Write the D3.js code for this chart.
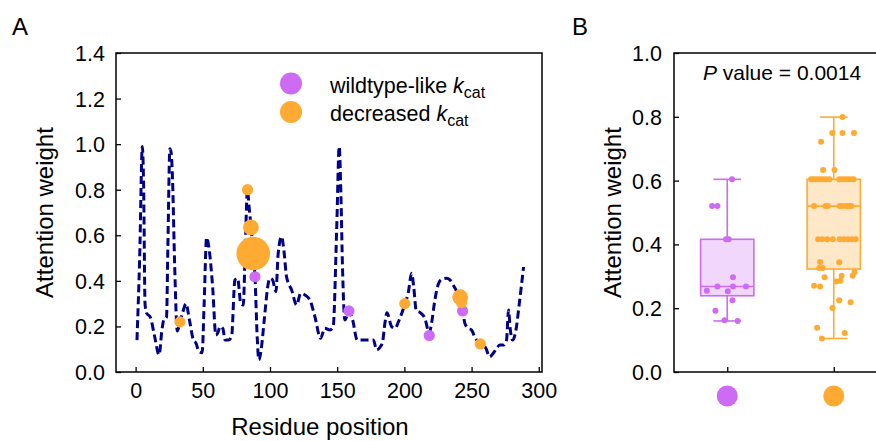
<!DOCTYPE html>
<html>
<head>
<meta charset="utf-8">
<script src="https://cdn.jsdelivr.net/npm/d3@7"></script>
<style>
  body { margin: 0; background: #fff; }
  svg { display: block; }
  text { font-family: "Liberation Sans", Arial, Helvetica, sans-serif; fill: #000; }
</style>
</head>
<body>
<svg id="chart" width="876" height="441"></svg>
<script>
// ---- Panel A: per-residue attention profile ----
const residues = [1, 3, 5, 6, 7, 8, 11, 14, 17.5, 19.5, 21, 23, 24, 25.5, 26.5, 27.5, 29, 31, 33, 35, 37.5, 40, 43, 45, 47, 49.5,
  51, 52.8, 54.8, 57.3, 59.7, 61, 63, 65, 66.5, 69, 71.4, 73.9, 75.9, 78.3, 80.1, 81.5, 83.2, 84.5, 86, 87.5, 88.8, 90.5, 91.7,
  93.7, 95.7, 98.7, 99.8, 101.9, 104.4, 106.1, 108.6, 110.3, 112.3, 116.1, 119.8, 122.8, 126, 129.7, 133.4, 137.6, 140.8, 144.6,
  147, 149.6, 151.5, 152.8, 154, 155.7, 158.7, 161.5, 164.9, 169.4, 174.3, 177, 179.3, 182, 183.8, 185.5, 187, 190.5, 193, 196.1,
  200.3, 202.8, 205.4, 207, 208.8, 211.5, 215.3, 218.5, 220.2, 222.7, 225.2, 227.7, 231.4, 233.9, 236.3, 240, 242, 243.3, 245,
  247.5, 250, 252.5, 256.4, 260.6, 263.3, 266.1, 268.6, 271, 274, 276, 277.5, 278.7, 280.5, 283, 285.5, 288.7];
const weights = [0.14, 0.50, 0.99, 0.80, 0.30, 0.26, 0.24, 0.16, 0.075, 0.18, 0.23, 0.24, 0.55, 0.98, 0.96, 0.84, 0.48, 0.18, 0.22,
  0.26, 0.30, 0.23, 0.14, 0.126, 0.09, 0.085, 0.30, 0.59, 0.535, 0.374, 0.162, 0.17, 0.20, 0.19, 0.14, 0.14, 0.155, 0.404, 0.411,
  0.30, 0.294, 0.52, 0.80, 0.72, 0.63, 0.52, 0.42, 0.15, 0.053, 0.111, 0.228, 0.389, 0.411, 0.404, 0.352, 0.521, 0.594, 0.535,
  0.418, 0.36, 0.294, 0.345, 0.338, 0.316, 0.243, 0.148, 0.192, 0.184, 0.199, 0.623, 0.989, 0.769, 0.448, 0.228, 0.268, 0.228,
  0.14, 0.14, 0.14, 0.14, 0.097, 0.11, 0.133, 0.214, 0.26, 0.199, 0.192, 0.228, 0.297, 0.345, 0.433, 0.37, 0.27, 0.262, 0.235,
  0.17, 0.214, 0.316, 0.385, 0.407, 0.411, 0.404, 0.382, 0.338, 0.30, 0.268, 0.214, 0.192, 0.184, 0.152, 0.123, 0.105, 0.067,
  0.082, 0.104, 0.118, 0.118, 0.14, 0.272, 0.192, 0.14, 0.184, 0.30, 0.462];

// Mutated sites: residue, attention weight, number of variants at the site
const wtSites = [88.8, 158.7, 218.5, 243.3];
const wtSiteWeights = [0.418, 0.268, 0.16, 0.268];
const wtSiteCounts = [1, 1, 1, 1];
const decSites = [33, 83.3, 85.8, 87.5, 200.3, 241.5, 242.5, 256.5];
const decSiteWeights = [0.22, 0.80, 0.635, 0.52, 0.30, 0.328, 0.305, 0.123];
const decSiteCounts = [1, 1, 2, 9, 1, 2, 1, 1];

const xTicksA = [0, 50, 100, 150, 200, 250, 300];
const yTicksA = [0, 0.2, 0.4, 0.6, 0.8, 1.0, 1.2, 1.4];

// ---- Panel B: attention weights per group (value, horizontal jitter in category units) ----
const groups = ["wildtype-like", "decreased"];
const wtValues = [0.604, 0.520, 0.520, 0.416, 0.416, 0.297, 0.268, 0.268, 0.268, 0.255, 0.253, 0.225, 0.192, 0.162, 0.160];
const wtJitter = [0.045, -0.142, -0.092, -0.011, 0.014, 0.054, -0.092, 0.054, 0.176, -0.192, 0.005, 0.049, -0.111, -0.026, 0.098];
const decValues = [0.799, 0.749, 0.749, 0.749, 0.722, 0.633, 0.633,
  0.604, 0.604, 0.604, 0.604, 0.604, 0.604, 0.604, 0.604, 0.604, 0.604, 0.604, 0.604, 0.604, 0.604,
  0.52, 0.52, 0.52, 0.52, 0.52, 0.52, 0.52, 0.52,
  0.416, 0.416, 0.416, 0.416, 0.416, 0.416, 0.416, 0.416, 0.416,
  0.345, 0.344, 0.326, 0.326, 0.297, 0.284, 0.286, 0.302, 0.302, 0.313, 0.270, 0.268, 0.225, 0.219, 0.201, 0.139, 0.122, 0.105];
const decJitter = [0.082, -0.014, 0.082, 0.190, -0.119, -0.100, 0.007,
  -0.213, -0.192, -0.169, -0.145, -0.122, -0.098, -0.070, -0.040, 0.050, 0.078, 0.106, 0.134, 0.162, 0.187,
  -0.185, -0.078, -0.056, 0.056, 0.082, 0.119, 0.145, 0.166,
  -0.147, -0.108, -0.061, -0.009, 0.056, 0.094, 0.131, 0.169, 0.206,
  -0.128, 0.051, -0.136, -0.105, -0.086, 0.025, 0.063, 0.074, 0.177, 0.195, -0.185, -0.128, 0.051, 0.158, -0.012, -0.156, 0.103, -0.111];
const yTicksB = [0, 0.2, 0.4, 0.6, 0.8, 1.0];
const pValueText = " value = 0.0014";

// ---- styling ----
const PURPLE = "#cd6bf5";
const ORANGE = "#ffaa33";
const NAVY = "#000088";
const TICK_FONT = 21.5;

const svg = d3.select("#chart");

// ================= Panel A =================
const A = { left: 116, right: 542, top: 53, bottom: 372 };
const xA = d3.scaleLinear().domain([-14.6, 302.4]).range([A.left, A.right]);
const yA = d3.scaleLinear().domain([0, 1.4]).range([A.bottom, A.top]);
const rSite = d3.scaleSqrt().domain([0, 1]).range([0, 5.6]);

const gA = svg.append("g");

gA.append("g")
  .attr("transform", `translate(0,${A.bottom})`)
  .call(d3.axisBottom(xA).tickValues(xTicksA).tickSizeInner(-5).tickSizeOuter(0).tickPadding(11))
  .call(g => g.select(".domain").remove())
  .call(g => g.selectAll("line").attr("stroke", "#000").attr("stroke-width", 1.3))
  .call(g => g.selectAll("text").attr("font-size", TICK_FONT).attr("font-family", null).attr("fill", "#000"));

gA.append("g")
  .attr("transform", `translate(${A.left},0)`)
  .call(d3.axisLeft(yA).tickValues(yTicksA).tickFormat(d3.format(".1f")).tickSizeInner(-5).tickSizeOuter(0).tickPadding(11))
  .call(g => g.select(".domain").remove())
  .call(g => g.selectAll("line").attr("stroke", "#000").attr("stroke-width", 1.3))
  .call(g => g.selectAll("text").attr("font-size", TICK_FONT).attr("font-family", null).attr("fill", "#000").attr("dy", "0.35em"));

gA.append("rect")
  .attr("x", A.left).attr("y", A.top)
  .attr("width", A.right - A.left).attr("height", A.bottom - A.top)
  .attr("fill", "none").attr("stroke", "#000").attr("stroke-width", 1.5);

const profile = residues.map((r, i) => [r, weights[i]]);
gA.append("path")
  .datum(profile)
  .attr("fill", "none")
  .attr("stroke", NAVY)
  .attr("stroke-width", 3)
  .attr("stroke-dasharray", "8,4")
  .attr("d", d3.line().x(d => xA(d[0])).y(d => yA(d[1])).curve(d3.curveMonotoneX));

gA.append("g").selectAll("circle")
  .data(wtSites.map((r, i) => ({ r, w: wtSiteWeights[i], n: wtSiteCounts[i] })))
  .join("circle")
  .attr("cx", d => xA(d.r)).attr("cy", d => yA(d.w)).attr("r", d => rSite(d.n))
  .attr("fill", PURPLE);

gA.append("g").selectAll("circle")
  .data(decSites.map((r, i) => ({ r, w: decSiteWeights[i], n: decSiteCounts[i] })))
  .join("circle")
  .attr("cx", d => xA(d.r)).attr("cy", d => yA(d.w)).attr("r", d => rSite(d.n))
  .attr("fill", ORANGE);

// legend
const legend = gA.append("g");
[["wildtype-like ", PURPLE, 83.5], ["decreased ", ORANGE, 112]].forEach(([label, color, cy]) => {
  legend.append("circle").attr("cx", 291).attr("cy", cy).attr("r", 11).attr("fill", color);
  const t = legend.append("text").attr("x", 330).attr("y", cy + 9).attr("font-size", 21.5);
  t.append("tspan").text(label);
  t.append("tspan").attr("font-style", "italic").text("k");
  t.append("tspan").attr("font-size", 16).attr("dy", 5).text("cat");
});

gA.append("text").attr("x", 12).attr("y", 35).attr("font-size", 24).text("A");
gA.append("text")
  .attr("transform", `translate(53,${(A.top + A.bottom) / 2}) rotate(-90)`)
  .attr("text-anchor", "middle").attr("font-size", 24).text("Attention weight");
gA.append("text")
  .attr("x", 320).attr("y", 435)
  .attr("text-anchor", "middle").attr("font-size", 24).text("Residue position");

// ================= Panel B =================
const B = { left: 674, right: 887, top: 53, bottom: 372 };
const xB = d3.scaleLinear().domain([-0.5, 1.5]).range([B.left, B.right]);
const yB = d3.scaleLinear().domain([0, 1]).range([B.bottom, B.top]);
const gB = svg.append("g");

gB.append("g")
  .attr("transform", `translate(${B.left},0)`)
  .call(d3.axisLeft(yB).tickValues(yTicksB).tickFormat(d3.format(".1f")).tickSizeInner(-5).tickSizeOuter(0).tickPadding(12))
  .call(g => g.select(".domain").remove())
  .call(g => g.selectAll("line").attr("stroke", "#000").attr("stroke-width", 1.3))
  .call(g => g.selectAll("text").attr("font-size", TICK_FONT).attr("font-family", null).attr("fill", "#000").attr("dy", "0.35em"));

gB.append("g")
  .attr("transform", `translate(0,${B.bottom})`)
  .call(d3.axisBottom(xB).tickValues([0, 1]).tickFormat(() => "").tickSizeInner(-5).tickSizeOuter(0))
  .call(g => g.select(".domain").remove())
  .call(g => g.selectAll("line").attr("stroke", "#000").attr("stroke-width", 1.3));

gB.append("rect")
  .attr("x", B.left).attr("y", B.top)
  .attr("width", B.right - B.left).attr("height", B.bottom - B.top)
  .attr("fill", "none").attr("stroke", "#000").attr("stroke-width", 1.5);

const sets = [
  { values: wtValues, jitter: wtJitter, color: PURPLE },
  { values: decValues, jitter: decJitter, color: ORANGE }
];
sets.forEach((s, gi) => {
  const sorted = s.values.slice().sort(d3.ascending);
  const q1 = d3.quantile(sorted, 0.25), med = d3.quantile(sorted, 0.5), q3 = d3.quantile(sorted, 0.75);
  const lo = d3.min(sorted), hi = d3.max(sorted);
  const g = gB.append("g");
  const cx = xB(gi), half = xB(gi + 0.25) - cx, cap = xB(gi + 0.13) - cx;
  g.append("line").attr("x1", cx).attr("x2", cx).attr("y1", yB(hi)).attr("y2", yB(q3))
    .attr("stroke", s.color).attr("stroke-width", 1.6);
  g.append("line").attr("x1", cx).attr("x2", cx).attr("y1", yB(q1)).attr("y2", yB(lo))
    .attr("stroke", s.color).attr("stroke-width", 1.6);
  [hi, lo].forEach(v => g.append("line").attr("x1", cx - cap).attr("x2", cx + cap).attr("y1", yB(v)).attr("y2", yB(v))
    .attr("stroke", s.color).attr("stroke-width", 1.6));
  g.append("rect").attr("x", cx - half).attr("y", yB(q3)).attr("width", 2 * half).attr("height", yB(q1) - yB(q3))
    .attr("fill", s.color).attr("fill-opacity", 0.27).attr("stroke", s.color).attr("stroke-width", 1.6);
  g.append("line").attr("x1", cx - half).attr("x2", cx + half).attr("y1", yB(med)).attr("y2", yB(med))
    .attr("stroke", s.color).attr("stroke-width", 1.6);
  g.selectAll("circle.pt").data(s.values).join("circle").attr("class", "pt")
    .attr("cx", (d, i) => xB(gi + s.jitter[i])).attr("cy", d => yB(d)).attr("r", 3)
    .attr("fill", s.color);
  // group marker below the axis
  g.append("circle").attr("cx", cx).attr("cy", 396).attr("r", 10.5).attr("fill", s.color)
    .append("title").text(groups[gi]);
});

const pt = gB.append("text").attr("x", 782).attr("y", 80).attr("text-anchor", "middle").attr("font-size", 21);
pt.append("tspan").attr("font-style", "italic").text("P");
pt.append("tspan").text(pValueText);

gB.append("text").attr("x", 572).attr("y", 35).attr("font-size", 24).text("B");
gB.append("text")
  .attr("transform", `translate(621,${(B.top + B.bottom) / 2}) rotate(-90)`)
  .attr("text-anchor", "middle").attr("font-size", 24).text("Attention weight");
</script>
</body>
</html>
